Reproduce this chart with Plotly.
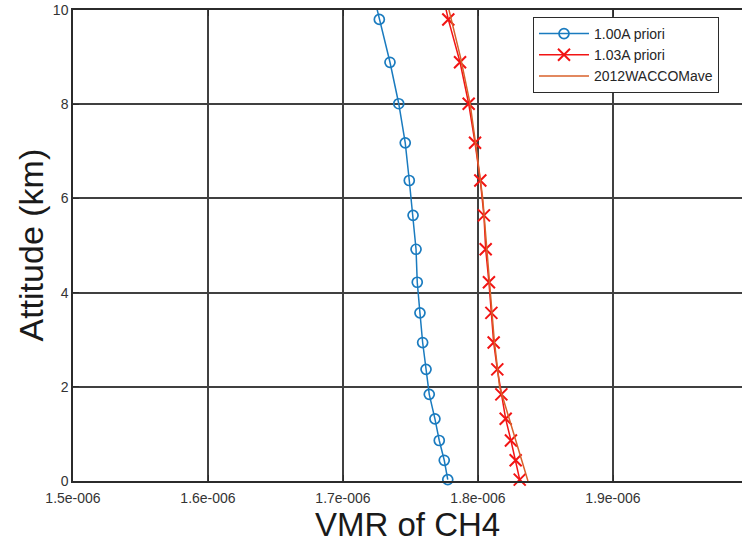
import plotly.graph_objects as go

# Altitude levels (km) of the retrieval grid, plus one level above the plotted range
alt_levels = [0.03, 0.44, 0.86, 1.32, 1.84, 2.37, 2.94, 3.57, 4.22, 4.92,
              5.64, 6.38, 7.18, 8.01, 8.89, 9.80, 10.75]

# CH4 volume mixing ratio profiles
vmr_100 = [1.7776e-6, 1.7750e-6, 1.7713e-6, 1.7681e-6, 1.7639e-6, 1.7615e-6,
           1.7590e-6, 1.7570e-6, 1.7550e-6, 1.7541e-6, 1.7519e-6, 1.7491e-6,
           1.7461e-6, 1.7413e-6, 1.7348e-6, 1.7269e-6, 1.7190e-6]
vmr_103 = [1.8309e-6, 1.8279e-6, 1.8244e-6, 1.8205e-6, 1.8173e-6, 1.8143e-6,
           1.8116e-6, 1.8099e-6, 1.8081e-6, 1.8057e-6, 1.8044e-6, 1.8017e-6,
           1.7978e-6, 1.7931e-6, 1.7867e-6, 1.7780e-6, 1.7705e-6]

# 2012 WACCOM mean profile
wac_alt = [0.0, 2.0, 3.0, 4.0, 5.0, 6.0, 7.0, 8.0, 9.0, 10.0, 11.0]
wac_vmr = [1.8370e-6, 1.8160e-6, 1.8120e-6, 1.8092e-6, 1.8062e-6, 1.8035e-6,
           1.7990e-6, 1.7942e-6, 1.7870e-6, 1.7790e-6, 1.7700e-6]

x_ticks = [1.5e-6, 1.6e-6, 1.7e-6, 1.8e-6, 1.9e-6, 2.0e-6]
x_tick_text = ["1.5e-006", "1.6e-006", "1.7e-006", "1.8e-006", "1.9e-006", "2e-006"]
y_ticks = [0, 2, 4, 6, 8, 10]

BLUE = "#1a7bbf"
RED = "#f21414"
ORANGE = "#d9602a"
AXIS = "#2b2b2b"
GRID = "#404040"
FONT = "Liberation Sans, Arial, sans-serif"

fig = go.Figure()
fig.add_trace(go.Scatter(
    x=vmr_100, y=alt_levels, mode="lines+markers", name="1.00A priori",
    line=dict(color=BLUE, width=1.5),
    marker=dict(symbol="circle-open", size=10, color=BLUE, line=dict(width=1.7, color=BLUE)),
    cliponaxis=False,
))
fig.add_trace(go.Scatter(
    x=vmr_103, y=alt_levels, mode="lines+markers", name="1.03A priori",
    line=dict(color=RED, width=1.5),
    marker=dict(symbol="x-thin", size=12, color=RED, line=dict(width=2, color=RED)),
    cliponaxis=False,
))
fig.add_trace(go.Scatter(
    x=wac_vmr, y=wac_alt, mode="lines", name="2012WACCOMave",
    line=dict(color=ORANGE, width=1.5),
    cliponaxis=False,
))

# plot area spans 73..742 px horizontally, 135 px per 1e-7
x_lo = 1.5e-6
x_hi = x_lo + (742 - 73) / 135 * 1e-7

fig.update_layout(
    width=742, height=544,
    margin=dict(l=73, r=0, t=10, b=63),
    paper_bgcolor="white", plot_bgcolor="white",
    font=dict(family=FONT, color="#262626"),
    showlegend=True,
    legend=dict(
        x=(533 - 73) / 669, y=(481 - 17) / 471, xanchor="left", yanchor="top",
        bgcolor="white", bordercolor=AXIS, borderwidth=1,
        font=dict(family=FONT, size=14, color="#262626"),
        tracegroupgap=0, itemwidth=50,
    ),
    xaxis=dict(
        range=[x_lo, x_hi], tickvals=x_ticks, ticktext=x_tick_text,
        showgrid=True, gridcolor=GRID, gridwidth=1.6,
        showline=True, linecolor=AXIS, linewidth=1.5, mirror="ticks",
        ticks="inside", ticklen=6, tickcolor=AXIS, tickwidth=1.2,
        ticklabelstandoff=3,
        tickfont=dict(size=14, color="#333333"), zeroline=False,
    ),
    yaxis=dict(
        range=[0, 10], tickvals=y_ticks,
        showgrid=True, gridcolor=GRID, gridwidth=1.6,
        showline=True, linecolor=AXIS, linewidth=1.5,
        ticks="inside", ticklen=6, tickcolor=AXIS, tickwidth=1.2,
        tickfont=dict(size=14, color="#333333"), zeroline=False,
    ),
    annotations=[
        dict(text="VMR of CH4", xref="paper", yref="paper", x=0.5, y=-(524 - 481) / 471,
             xanchor="center", yanchor="middle", showarrow=False,
             font=dict(family=FONT, size=33, color="#1a1a1a")),
        dict(text="Attitude (km)", xref="paper", yref="paper", x=-(73 - 30) / 669, y=0.5,
             xanchor="center", yanchor="middle", textangle=-90, showarrow=False,
             font=dict(family=FONT, size=34, color="#1a1a1a")),
    ],
)

fig.write_html("out.html")
